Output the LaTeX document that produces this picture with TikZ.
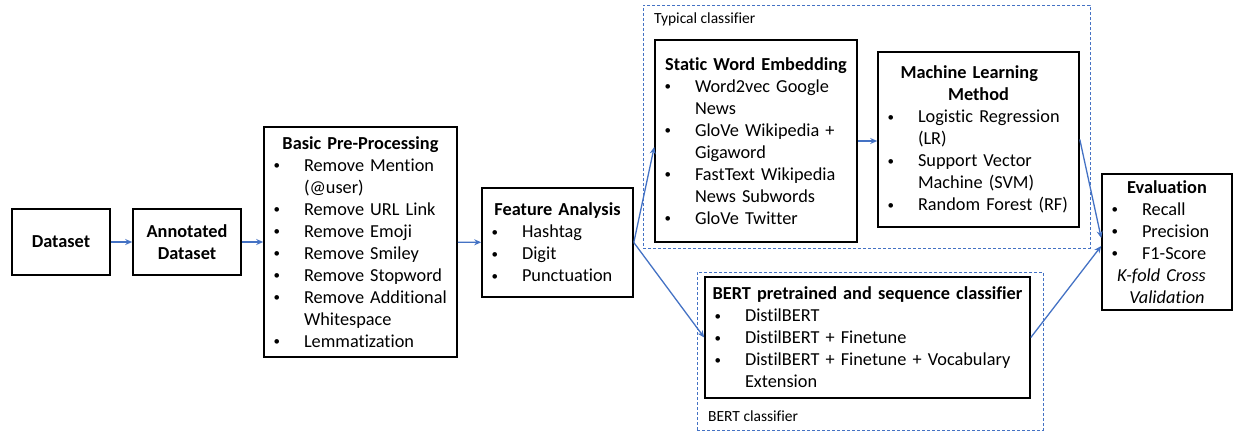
\documentclass[tikz,border=0pt]{standalone}
\usepackage{fontspec}
\setmainfont{Carlito}[Ligatures=NoCommon]
\usetikzlibrary{arrows.meta,positioning}

\definecolor{flowblue}{RGB}{68,114,196}

% one bullet line of a box, continuation lines hang under the text
\newcommand{\bitem}[1]{\par\hangindent=36pt\hangafter=1\noindent\makebox[36pt][l]{\hspace{5.5pt}\raisebox{1.5pt}{\fontsize{13}{13}\selectfont\textbullet}}#1}

\tikzset{
  stagebox/.style={draw=black, line width=1.6pt, inner xsep=4pt, inner ysep=1pt,
    font=\fontsize{18.3}{22}\selectfont},
  groupbox/.style={draw=flowblue, line width=0.9pt, dash pattern=on 3pt off 2pt},
  grouplabel/.style={anchor=west, inner sep=0pt, font=\fontsize{15.5}{18}\selectfont},
  flow/.style={draw=flowblue, line width=1.3pt, -{Stealth[length=7pt,width=6pt]}}
}

\begin{document}
\begin{tikzpicture}[x=1pt, y=-1pt]
		\useasboundingbox (0,0) rectangle (1242,431);
		
		% Dashed groups
		\node[groupbox, minimum width=447pt, minimum height=243pt] (typical) at (866.5,126.5) {};
		\node[groupbox, minimum width=346pt, minimum height=158pt] (bertgroup) at (870,351) {};
		\node[grouplabel] (typlabel) at (654,19) {Typical classifier};
		\node[grouplabel] (bertlabel) at (708,416) {BERT classifier};
		
		% Stage boxes
		\node[stagebox, minimum width=98pt, minimum height=66pt, align=center] (data) at (61,242) {\bfseries Dataset};
		\node[stagebox, minimum width=108pt, minimum height=66pt, align=center] (annot) at (187,242) {\bfseries Annotated\\ \bfseries Dataset};
		
		\node[stagebox, minimum width=193pt, minimum height=230pt, text width=185pt] (prep) at (360.5,242) {%
			{\centering\bfseries Basic Pre-Processing\par}
			\bitem{Remove Mention\newline(@user)}
			\bitem{Remove URL Link}
			\bitem{Remove Emoji}
			\bitem{Remove Smiley}
			\bitem{Remove Stopword}
			\bitem{Remove Additional\newline Whitespace}
			\bitem{Lemmatization}\par};
		
		\node[stagebox, minimum width=151pt, minimum height=109pt, text width=143pt] (feat) at (557.5,242.5) {%
			{\centering\bfseries Feature Analysis\par}
			\bitem{Hashtag}
			\bitem{Digit}
			\bitem{Punctuation}\par};
		
		\node[stagebox, minimum width=202pt, minimum height=202pt, text width=194pt] (embed) at (756,141) {%
			{\centering\bfseries Static Word Embedding\par}
			\bitem{Word2vec Google\newline News}
			\bitem{GloVe Wikipedia +\newline Gigaword}
			\bitem{FastText Wikipedia\newline News Subwords}
			\bitem{GloVe Twitter}\par};
		
		\node[stagebox, minimum width=201pt, minimum height=175pt, text width=193pt] (mlm) at (978.5,139.5) {%
			{\centering\bfseries Machine Learning\newline Method\par}
			\bitem{Logistic Regression\newline(LR)}
			\bitem{Support Vector\newline Machine (SVM)}
			\bitem{Random Forest (RF)}\par};
		
		\node[stagebox, minimum width=325pt, minimum height=121pt, text width=317pt] (bert) at (867.5,337.5) {%
			{\centering\bfseries BERT pretrained and sequence classifier\par}
			\bitem{DistilBERT}
			\bitem{DistilBERT + Finetune}
			\bitem{DistilBERT + Finetune + Vocabulary\newline Extension}\par};
		
		\node[stagebox, minimum width=130pt, minimum height=136pt, text width=122pt] (eval) at (1167,242) {%
			{\centering\bfseries Evaluation\par}
			\bitem{Recall}
			\bitem{Precision}
			\bitem{F1-Score}\par
			{\centering\itshape K-fold Cross\newline Validation\par}};
		
		% Connectors
		\draw[flow] (data) -- (annot);
		\draw[flow] (annot) -- (prep);
		\draw[flow] (prep) -- (feat);
		\draw[flow] (feat.east) -- ([yshift=-6pt]embed.west);
		\draw[flow] (feat.east) -- (bert.west);
		\draw[flow] (embed.east) -- (embed.east -| mlm.west);
		\draw[flow] (mlm.east) -- ([yshift=4pt]eval.west);
		\draw[flow] (bert.east) -- ([yshift=-4pt]eval.west);
		
	\end{tikzpicture}
\end{document}
